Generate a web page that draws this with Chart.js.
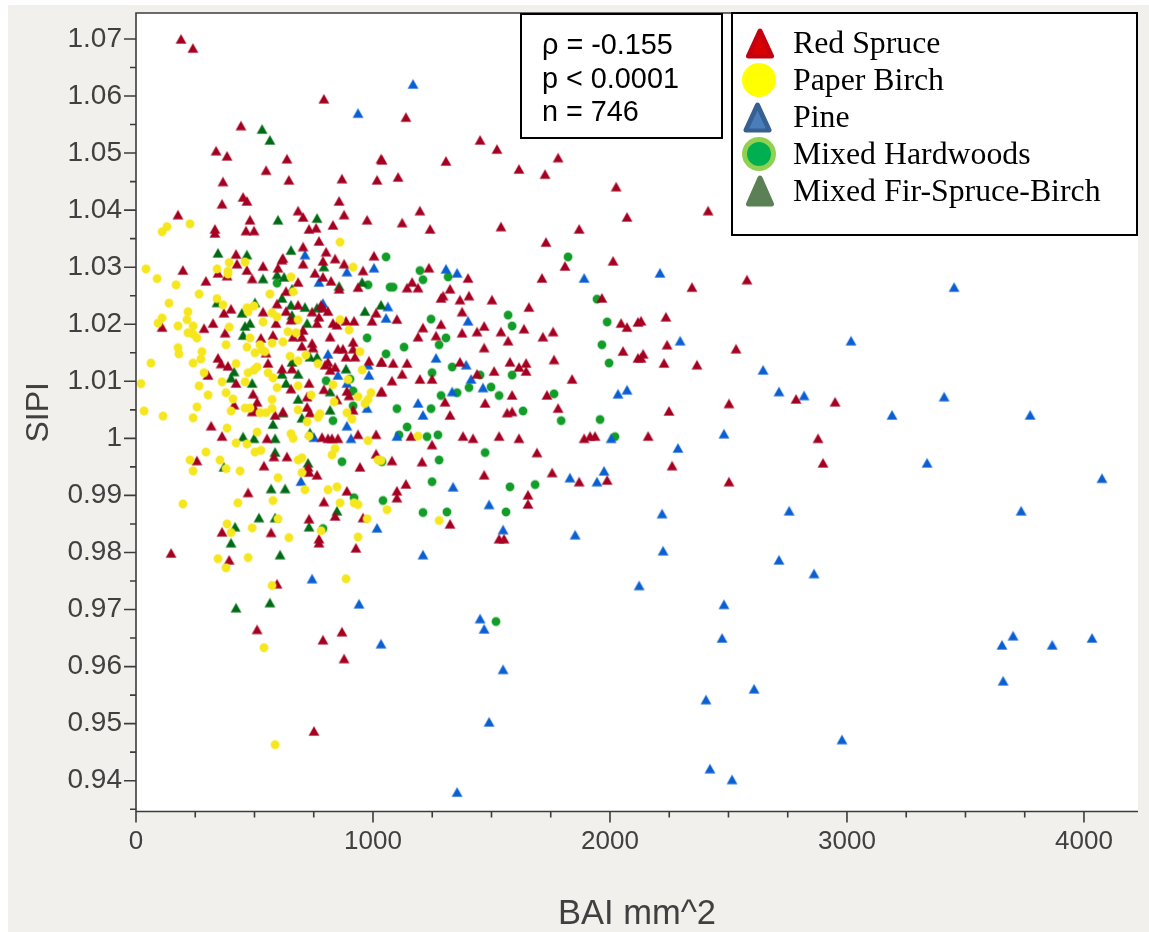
<!DOCTYPE html>
<html>
<head>
<meta charset="utf-8">
<title>SIPI vs BAI</title>
<script src="https://cdn.jsdelivr.net/npm/chart.js@4/dist/chart.umd.min.js"></script>
<style>
html, body { margin: 0; background: #fff; overflow: hidden; }
#panel { position: absolute; left: 8px; top: 5px; width: 1141px; height: 927px; background: #f1f0ec; }
#grafico { position: absolute; left: 0; top: 0; }
</style>
</head>
<body>
<div id="panel"></div>
<canvas id="grafico" width="1149" height="932"></canvas>
<script>
// [BAI mm^2, SIPI]
const redSpruce = [
[190,1.07],[240,1.0684],[793,1.0595],[443,1.0548],[338,1.0504],[384,1.0495],[637,1.049],[549,1.047],[1034,1.049],
[367,1.045],[645,1.0453],[869,1.0455],[1017,1.0453],[452,1.0423],[468,1.0416],[363,1.0411],[857,1.0416],[177,1.0392],
[684,1.0399],[705,1.0388],[878,1.0392],[975,1.0383],[481,1.0383],[333,1.0367],[333,1.036],[464,1.0364],[498,1.0364],
[730,1.0367],[760,1.0369],[831,1.0374],[772,1.0346],[705,1.0336],[802,1.0327],[422,1.0323],[620,1.0316],[616,1.0313],
[840,1.0315],[789,1.0311],[1004,1.032],[426,1.0306],[705,1.0306],[536,1.0302],[878,1.0306],[599,1.0299],[198,1.0295],
[468,1.0295],[958,1.0294],[755,1.029],[346,1.029],[384,1.0285],[490,1.028],[295,1.0276],[684,1.0274],[789,1.0283],
[823,1.0276],[857,1.0262],[937,1.0265],[633,1.0258],[595,1.0236],[401,1.0227],[371,1.022],[536,1.0222],[633,1.0223],
[684,1.0234],[743,1.0222],[781,1.0234],[789,1.0229],[810,1.0223],[772,1.0213],[1013,1.022],[325,1.0202],[287,1.0193],
[110,1.0195],[591,1.0202],[654,1.0208],[764,1.0202],[831,1.0202],[848,1.0199],[886,1.0206],[920,1.0206],[996,1.0206],
[376,1.0185],[527,1.0176],[578,1.0181],[663,1.0178],[700,1.0178],[705,1.019],[700,1.0162],[743,1.0167],[747,1.0159],
[819,1.0178],[916,1.0169],[916,1.0157],[852,1.0157],[873,1.0157],[886,1.0143],[924,1.0143],[549,1.015],[346,1.0141],
[359,1.0131],[388,1.0127],[557,1.0132],[810,1.0134],[798,1.0129],[819,1.012],[840,1.0125],[983,1.0136],[1034,1.0134],
[658,1.0122],[616,1.0122],[304,1.0111],[422,1.0097],[730,1.0097],[654,1.0087],[793,1.0086],[890,1.0083],[899,1.0075],
[1034,1.0082],[494,1.0078],[511,1.0064],[722,1.0073],[722,1.0055],[734,1.0045],[916,1.005],[848,1.0068],[414,1.0059],
[502,1.0052],[490,1.0047],[587,1.0041],[620,1.0047],[317,1.0022],[363,1.0004],[553,1.0],[785,1.0002],[810,1.0],
[827,1.0],[852,1.0],[937,1.0007],[1013,1.0007],[1013,0.9973],[582,0.9968],[637,0.9968],[257,0.9961],[540,0.9952],
[945,0.995],[726,0.995],[730,0.9941],[764,0.9936],[473,0.9905],[890,0.9908],[793,0.9889],[840,0.9864],[958,0.9861],
[730,0.9859],[363,0.9836],[570,0.9835],[772,0.9824],[772,0.9817],[928,0.9808],[148,0.9799],[393,0.9787],[595,0.9745],
[511,0.9665],[789,0.9647],[869,0.9661],[878,0.9614],[751,0.9487],
[1730,1.0344],[1236,1.0299],[1810,1.0302],[2013,1.0311],[1713,1.0281],[1401,1.0281],[1165,1.0274],[1144,1.0264],
[1190,1.0264],[1325,1.0262],[1296,1.025],[1287,1.0246],[1405,1.025],[1367,1.0243],[1502,1.0243],[1966,1.0246],
[1658,1.023],[1376,1.0222],[1101,1.0209],[1287,1.02],[1211,1.0194],[1469,1.0197],[2047,1.0202],[2072,1.0195],
[2118,1.0204],[1190,1.0178],[1266,1.018],[1376,1.0185],[1439,1.0187],[1540,1.0187],[1637,1.0192],[1760,1.0187],
[1717,1.0178],[1570,1.0171],[1469,1.0159],[2055,1.0153],[2118,1.0141],[1764,1.0138],[1038,1.0134],[1085,1.0132],
[1144,1.0132],[1367,1.0134],[1578,1.0134],[1646,1.0132],[1616,1.0125],[1646,1.0118],[1511,1.0118],[1439,1.0113],
[1123,1.0113],[1198,1.0104],[1249,1.0104],[1080,1.0101],[1840,1.0104],[1038,1.0082],[1587,1.0076],[1734,1.0076],
[1304,1.0064],[1473,1.0062],[1566,1.0045],[1587,1.0047],[1781,1.0053],[1325,1.0041],[1160,1.0004],[1249,0.9989],
[1380,1.0004],[1422,1.0],[1532,1.0004],[1616,1.0],[1891,1.0],[1916,1.0004],[1937,1.0004],[1692,0.9975],[1080,0.9961],
[1207,0.9959],[1469,0.9936],[1756,0.994],[1870,0.9924],[1988,0.9927],[1139,0.992],[1101,0.9908],[1101,0.9896],
[1654,0.9901],[1654,0.9885],[1325,0.985],[1532,0.9824],[1553,0.9824],
[1139,1.0563],[1452,1.0523],[1523,1.0507],[1781,1.0492],[1038,1.0488],[1308,1.0486],[1616,1.0472],[1726,1.0463],
[1106,1.0458],[2026,1.0441],[2072,1.0388],[1198,1.0399],[1123,1.0378],[1241,1.0367],[1540,1.0371],[1870,1.0367],
[2414,1.0399],[2578,1.0278],[2346,1.0265],[2131,1.0206],[2236,1.0213],[2241,1.0164],[2532,1.0157],[2140,1.0148],
[2131,1.0141],[2228,1.0132],[2367,1.0129],[2502,1.0061],[2249,1.0048],[2785,1.0069],[2950,1.0064],[2161,1.0004],
[2878,1.0],[2262,0.9952],[2899,0.9957],[2502,0.9924]
];
const paperBirch = [
[228,1.0376],[131,1.0371],[110,1.0362],[861,1.0344],[42,1.0297],[89,1.028],[169,1.0269],[266,1.0253],[139,1.0237],
[219,1.0222],[110,1.0211],[93,1.0202],[215,1.0208],[177,1.0197],[241,1.0197],[393,1.0308],[460,1.0309],[342,1.0297],
[388,1.0293],[388,1.0288],[654,1.0283],[916,1.03],[565,1.0253],[663,1.0257],[342,1.0245],[367,1.0234],[468,1.0229],
[498,1.0232],[473,1.0222],[574,1.022],[595,1.0213],[536,1.0204],[684,1.0208],[861,1.0208],[393,1.0195],[899,1.019],
[219,1.0185],[257,1.0176],[241,1.0183],[641,1.0187],[675,1.0185],[574,1.0167],[620,1.0169],[481,1.0176],[380,1.0164],
[468,1.016],[523,1.0164],[532,1.0155],[502,1.015],[544,1.0152],[177,1.0159],[181,1.0148],[278,1.0152],[274,1.0139],
[241,1.0132],[63,1.0132],[422,1.0131],[511,1.0125],[498,1.012],[473,1.0115],[650,1.0144],[684,1.0136],[717,1.0146],
[768,1.0131],[945,1.0152],[954,1.012],[557,1.0115],[578,1.0106],[595,1.0089],[287,1.0115],[363,1.0099],[460,1.0099],
[21,1.0096],[266,1.0092],[304,1.0076],[380,1.008],[409,1.0069],[257,1.0055],[34,1.0048],[114,1.0039],[241,1.0036],
[401,1.0048],[460,1.0053],[481,1.0053],[523,1.0045],[549,1.0045],[574,1.0068],[574,1.0052],[684,1.005],[684,1.0092],
[739,1.0076],[831,1.0094],[836,1.0064],[895,1.0103],[937,1.0073],[992,1.008],[979,1.0068],[966,1.0061],[890,1.0045],
[911,1.0034],[776,1.0043],[768,1.0037],[722,1.0029],[384,1.0018],[511,1.0011],[654,1.0008],[663,1.0],[730,1.0004],
[422,0.9992],[468,0.999],[295,0.9976],[502,0.9976],[527,0.9979],[684,0.9962],[700,0.9966],[827,0.9971],[840,0.9982],
[979,0.9996],[1021,0.9962],[228,0.9962],[354,0.9962],[241,0.9943],[380,0.9947],[439,0.9943],[599,0.9931],[700,0.994],
[713,0.991],[810,0.991],[848,0.9915],[430,0.9887],[578,0.9891],[198,0.9885],[861,0.9887],[920,0.9887],[937,0.9884],
[1059,0.9875],[599,0.9859],[975,0.9859],[384,0.985],[401,0.9835],[490,0.9843],[645,0.9826],[781,0.9838],[937,0.9827],
[346,0.9789],[473,0.9791],[380,0.9773],[574,0.9742],[886,0.9754],[540,0.9633],[587,0.9463],[1190,1.0004],[1279,0.9856],
[1034,0.9961]
];
const pine = [
[937,1.057],[1169,1.0621],[2211,1.029],[2296,1.0171],[3017,1.0171],[2646,1.012],[2713,1.0082],[2819,1.0075],
[2481,1.0008],[2287,0.9983],[3190,1.0041],[3452,1.0265],[3410,1.0073],[3773,1.0041],[3338,0.9957],[4076,0.993],
[3735,0.9873],[2220,0.9868],[2224,0.9803],[2756,0.9873],[2713,0.9787],[2861,0.9763],[2123,0.9742],[2481,0.9709],
[2473,0.965],[3654,0.9638],[3701,0.9654],[3659,0.9575],[3866,0.9638],[4034,0.965],[2608,0.9561],[2405,0.9542],
[2979,0.9472],[2422,0.9421],[2515,0.9402],[1211,0.9796],[1452,0.9684],[1469,0.9666],[1034,0.964],[1549,0.9595],
[1490,0.9503],[1355,0.938],[1190,1.0062],[1211,1.0041],[1334,1.0082],[1464,1.0089],[1101,1.0004],[1338,0.9915],
[1490,0.9884],[1549,0.984],[1853,0.9831],[1831,0.9931],[1945,0.9924],[1975,0.9943],[2005,1.0],[2034,1.0078],
[2072,1.0085],[1308,1.0297],[1355,1.029],[1891,1.0281],[1063,1.0231],[1055,1.0211],[1401,1.0206],[1266,1.0141],
[1393,1.0129],[1414,1.0104],[713,1.0322],[890,1.0292],[1004,1.0299],[772,1.0274],[789,1.0237],[810,1.0148],
[852,1.0111],[983,1.0111],[979,1.0129],[890,1.0097],[975,1.0053],[890,1.0022],[907,1.0],[751,1.0002],[696,0.9925],
[1017,0.9843],[743,0.9754],[941,0.971]
];
const mixedHardwoods = [
[1055,1.0318],[595,1.0272],[979,1.0269],[1072,1.0265],[975,1.0176],[1055,1.0148],[802,1.0101],[903,1.0104],[916,1.0083],
[916,1.0057],[831,1.0031],[869,0.9959],[1038,0.9959],[920,0.9896],[1042,0.9891],[789,0.9842],[1198,1.0294],[1211,1.0278],
[1317,1.0283],[1085,1.0265],[1823,1.0318],[1945,1.0244],[1570,1.0216],[1587,1.0197],[1988,1.0204],[1245,1.0209],
[1308,1.0176],[1279,1.0164],[1131,1.016],[1966,1.0164],[1996,1.0132],[1334,1.0125],[1587,1.0111],[1249,1.0115],
[1452,1.0111],[1405,1.0089],[1498,1.009],[1355,1.008],[1287,1.0075],[1532,1.0075],[1764,1.0078],[1633,1.0048],
[1101,1.0052],[1245,1.0052],[1794,1.0031],[1958,1.0033],[1144,1.002],[1110,1.0006],[1228,1.0003],[1274,1.0006],
[2021,1.0003],[1473,0.9975],[1279,0.9962],[1249,0.9924],[1578,0.9915],[1684,0.9919],[1211,0.987],[1312,0.9871],
[1561,0.9871],[1519,0.9679]
];
const mixedFirSpruceBirch = [
[532,1.0542],[565,1.0523],[599,1.0383],[764,1.0386],[346,1.0325],[468,1.0322],[654,1.033],[793,1.0301],[536,1.028],
[595,1.0287],[625,1.0283],[954,1.0274],[857,1.0267],[658,1.0262],[616,1.0246],[502,1.0238],[342,1.0238],[654,1.0234],
[713,1.023],[966,1.0223],[1034,1.0234],[447,1.022],[764,1.0229],[658,1.0216],[663,1.0209],[722,1.0202],[460,1.0197],
[481,1.0202],[452,1.0181],[764,1.0143],[734,1.0143],[658,1.0134],[684,1.0113],[616,1.0113],[414,1.0117],[401,1.0106],
[490,1.0097],[633,1.0097],[886,1.0122],[819,1.0082],[684,1.0069],[620,1.0045],[819,1.005],[700,1.0036],[578,1.0025],
[452,1.0003],[498,1.0],[587,1.0],[734,1.001],[587,0.9976],[726,0.9957],[371,0.995],[570,0.9912],[629,0.9912],
[519,0.9861],[587,0.9861],[848,0.9873],[418,0.9845],[730,0.9845],[401,0.9817],[608,0.9796],[565,0.9712],[422,0.9703]
];

const serieNames = ['Red Spruce', 'Paper Birch', 'Pine', 'Mixed Hardwoods', 'Mixed Fir-Spruce-Birch'];
const xTicks = [0,250,500,750,1000,1250,1500,1750,2000,2250,2500,2750,3000,3250,3500,3750,4000,4250];
const xTickLabels = ['0','','','','1000','','','','2000','','','','3000','','','','4000',''];
const yTicks = [0.935,0.94,0.945,0.95,0.955,0.96,0.965,0.97,0.975,0.98,0.985,0.99,0.995,1,1.005,1.01,1.015,1.02,1.025,1.03,1.035,1.04,1.045,1.05,1.055,1.06,1.065,1.07];
const yTickLabels = ['','0.94','','0.95','','0.96','','0.97','','0.98','','0.99','','1','','1.01','','1.02','','1.03','','1.04','','1.05','','1.06','','1.07'];
const statLines = ['\u03C1 = -0.155', 'p < 0.0001', 'n = 746'];

// Marcador pequeno con halo, centrado en el lienzo
function crearMarcador(tipo, relleno, halo) {
    const c = document.createElement('canvas');
    c.width = 16;
    c.height = 16;
    const g = c.getContext('2d');
    g.beginPath();
    if (tipo === 'tri') {
        g.moveTo(8, 3.5);
        g.lineTo(13, 12.4);
        g.lineTo(3, 12.4);
        g.closePath();
    } else {
        g.arc(8, 8, 4.2, 0, Math.PI * 2);
    }
    g.lineJoin = 'round';
    g.lineWidth = 1.4;
    g.strokeStyle = halo;
    g.fillStyle = relleno;
    g.stroke();
    g.fill();
    return c;
}

function serie(nombre, datos, orden, marcador) {
    return {
        label: nombre,
        data: datos.map(p => ({ x: p[0], y: p[1] })),
        order: orden,
        pointStyle: marcador,
        pointRadius: 5,
        showLine: false
    };
}

function triLeyenda(ctx, cx, arriba, abajo, mitad, relleno, borde) {
    ctx.lineJoin = 'round';
    ctx.lineWidth = 5;
    ctx.strokeStyle = borde;
    ctx.fillStyle = borde;
    ctx.beginPath();
    ctx.moveTo(cx, arriba);
    ctx.lineTo(cx + mitad, abajo);
    ctx.lineTo(cx - mitad, abajo);
    ctx.closePath();
    ctx.stroke();
    ctx.fill();
    const alto = abajo - arriba;
    ctx.fillStyle = relleno;
    ctx.beginPath();
    ctx.moveTo(cx, arriba + alto * 0.22);
    ctx.lineTo(cx + mitad * 0.72, abajo - alto * 0.06);
    ctx.lineTo(cx - mitad * 0.72, abajo - alto * 0.06);
    ctx.closePath();
    ctx.fill();
}

function circuloLeyenda(ctx, cx, cy, r, relleno) {
    ctx.beginPath();
    ctx.arc(cx, cy, r, 0, Math.PI * 2);
    ctx.fillStyle = relleno;
    ctx.fill();
}

const fondoPlot = {
    id: 'fondoPlot',
    beforeDraw(chart) {
        const a = chart.chartArea;
        chart.ctx.fillStyle = '#fff';
        chart.ctx.fillRect(a.left, a.top, a.right - a.left, a.bottom - a.top);
    }
};

// Marcas de los ejes: largas las que llevan numero, cortas las otras
const marcasEjes = {
    id: 'marcasEjes',
    afterDatasetsDraw(chart) {
        const ctx = chart.ctx;
        const a = chart.chartArea;
        ctx.save();
        ctx.strokeStyle = '#3c3c3c';
        ctx.lineWidth = 1.6;
        ctx.beginPath();
        ctx.moveTo(a.right, a.top);
        ctx.lineTo(a.left, a.top);
        ctx.lineTo(a.left, a.bottom);
        ctx.lineTo(a.right, a.bottom);
        xTicks.forEach((v, i) => {
            const px = chart.scales.x.getPixelForValue(v);
            if (px <= a.right) {
                ctx.moveTo(px, a.bottom);
                ctx.lineTo(px, a.bottom + (xTickLabels[i] ? 11 : 6));
            }
        });
        yTicks.forEach((v, i) => {
            const py = chart.scales.y.getPixelForValue(v);
            ctx.moveTo(a.left, py);
            ctx.lineTo(a.left - (yTickLabels[i] ? 12 : 6), py);
        });
        ctx.stroke();
        ctx.restore();
    }
};

const cajas = {
    id: 'cajas',
    afterDraw(chart) {
        const ctx = chart.ctx;
        ctx.save();
        ctx.fillStyle = '#fff';
        ctx.strokeStyle = '#000';
        ctx.lineWidth = 2;
        ctx.fillRect(521, 14, 201, 124);
        ctx.strokeRect(521, 14, 201, 124);
        ctx.fillRect(732, 13, 405, 222);
        ctx.strokeRect(732, 13, 405, 222);

        ctx.fillStyle = '#000';
        ctx.textBaseline = 'middle';
        ctx.font = '28.8px "Liberation Sans"';
        statLines.forEach((t, i) => ctx.fillText(t, 542, 46.5 + i * 33.5));

        triLeyenda(ctx, 760, 31, 56, 11.5, '#d80000', '#c40010');
        circuloLeyenda(ctx, 759, 80, 17, '#ffff00');
        triLeyenda(ctx, 757.5, 105, 130, 11.5, '#4a7ebb', '#376092');
        circuloLeyenda(ctx, 759, 154, 17, '#92d050');
        circuloLeyenda(ctx, 759, 154, 12, '#00b050');
        triLeyenda(ctx, 760, 178, 204, 11.5, '#5b8055', '#5b8055');

        ctx.fillStyle = '#000';
        ctx.font = '31.8px "Liberation Serif"';
        serieNames.forEach((t, i) => ctx.fillText(t, 793, 44.5 + i * 37));
        ctx.restore();
    }
};

const colorTexto = '#404040';

new Chart(document.getElementById('grafico').getContext('2d'), {
    type: 'scatter',
    data: {
        datasets: [
            serie(serieNames[0], redSpruce, 1, crearMarcador('tri', '#a50021', 'rgba(165,0,33,0.3)')),
            serie(serieNames[1], paperBirch, 0, crearMarcador('cir', '#f5e61e', 'rgba(245,230,30,0.35)')),
            serie(serieNames[2], pine, 3, crearMarcador('tri', '#0a5fd2', 'rgba(10,95,210,0.3)')),
            serie(serieNames[3], mixedHardwoods, 4, crearMarcador('cir', '#129d28', 'rgba(18,157,40,0.3)')),
            serie(serieNames[4], mixedFirSpruceBirch, 2, crearMarcador('tri', '#006b14', 'rgba(0,107,20,0.3)'))
        ]
    },
    options: {
        responsive: false,
        animation: false,
        layout: { padding: { top: 13, right: 11, left: 0, bottom: 0 } },
        plugins: {
            legend: { display: false },
            tooltip: { enabled: false }
        },
        scales: {
            x: {
                type: 'linear',
                min: 0,
                max: 4228,
                afterBuildTicks: s => { s.ticks = xTicks.filter(v => v <= 4228).map(v => ({ value: v })); },
                afterFit: s => { s.height = 120.5; s.paddingLeft = 0; s.paddingRight = 0; },
                grid: { display: false, drawTicks: false },
                border: { display: false },
                ticks: {
                    autoSkip: false,
                    maxRotation: 0,
                    padding: 15,
                    color: colorTexto,
                    font: { family: 'Liberation Sans', size: 26 },
                    callback: v => xTickLabels[xTicks.indexOf(v)]
                },
                title: {
                    display: true,
                    text: 'BAI mm^2',
                    color: colorTexto,
                    font: { family: 'Liberation Sans', size: 34.5, lineHeight: 1 },
                    padding: 0
                }
            },
            y: {
                type: 'linear',
                min: 0.9346,
                max: 1.07455,
                afterBuildTicks: s => { s.ticks = yTicks.map(v => ({ value: v })); },
                afterFit: s => { s.width = 136; s.paddingTop = 0; s.paddingBottom = 0; },
                grid: { display: false, drawTicks: false },
                border: { display: false },
                ticks: {
                    autoSkip: false,
                    padding: 14,
                    color: colorTexto,
                    font: { family: 'Liberation Sans', size: 28 },
                    callback: v => yTickLabels[yTicks.indexOf(v)]
                },
                title: {
                    display: true,
                    text: 'SIPI',
                    color: colorTexto,
                    font: { family: 'Liberation Sans', size: 32 },
                    padding: { top: 20, bottom: 0 }
                }
            }
        }
    },
    plugins: [fondoPlot, marcasEjes, cajas]
});
</script>
</body>
</html>
